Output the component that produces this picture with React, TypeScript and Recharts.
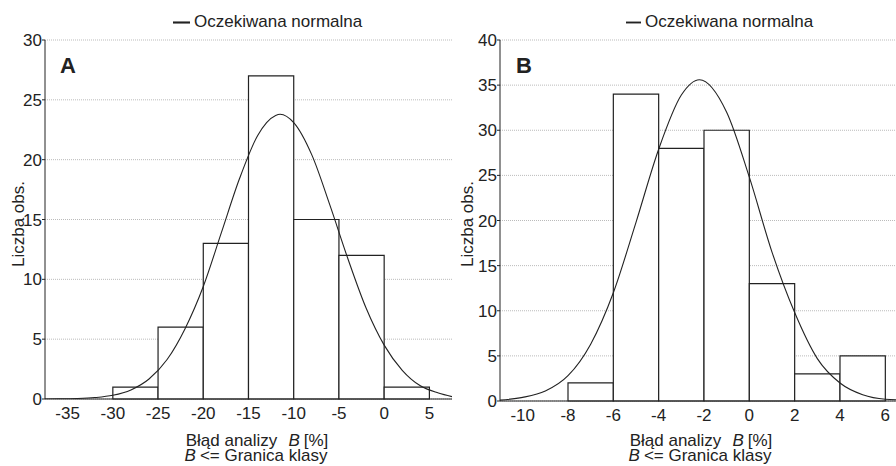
import {
  ComposedChart,
  Line,
  XAxis,
  YAxis,
  CartesianGrid,
  ReferenceArea,
  Legend,
} from 'recharts';

// panel A – histogram of the error, bins 5 % wide
const binEdgesA = [-30, -25, -20, -15, -10, -5, 0, 5];
const countsA = [1, 6, 13, 27, 15, 12, 1];
const xTicksA = [-35, -30, -25, -20, -15, -10, -5, 0, 5];
const yTicksA = [0, 5, 10, 15, 20, 25, 30];
const curveXA = [-37.5, -36, -34, -32, -30, -28, -26, -24, -22, -20, -18, -16, -14, -13, -12, -11.5, -10, -8, -6, -4, -2, 0, 2, 4, 6, 7.5];
const curveYA = [0.0, 0.01, 0.04, 0.12, 0.31, 0.76, 1.67, 3.3, 5.9, 9.4, 13.9, 18.4, 22.0, 23.1, 23.7, 23.8, 23.1, 20.4, 16.2, 11.7, 7.6, 4.5, 2.4, 1.1, 0.5, 0.2];

// panel B – histogram of the error, bins 2 % wide
const binEdgesB = [-8, -6, -4, -2, 0, 2, 4, 6];
const countsB = [2, 34, 28, 30, 13, 3, 5];
const xTicksB = [-10, -8, -6, -4, -2, 0, 2, 4, 6];
const yTicksB = [0, 5, 10, 15, 20, 25, 30, 35, 40];
const curveXB = [-11, -10, -9, -8, -7, -6, -5, -4, -3, -2.2, -1, 0, 1, 2, 3, 4, 5, 6, 7];
const curveYB = [0.1, 0.4, 1.1, 2.8, 6.3, 12.0, 19.8, 27.9, 33.9, 35.6, 32.0, 24.8, 16.5, 9.8, 4.7, 2.0, 0.7, 0.2, 0.1];

const INK = '#222';
const FS = 17;
const tickStyle = { fill: INK, fontSize: FS };

interface PanelProps {
  left: number;
  width: number;
  margin: { top: number; right: number; bottom: number; left: number };
  yAxisWidth: number;
  xDomain: [number, number];
  yDomain: [number, number];
  xTicks: number[];
  yTicks: number[];
  edges: number[];
  counts: number[];
  curveX: number[];
  curveY: number[];
  legendLeft: number;
  iconSize: number;
}

const Panel = (p: PanelProps) => {
  const curve = p.curveX.map((x, i) => ({ x, y: p.curveY[i] }));
  return (
    <div style={{ position: 'absolute', left: p.left, top: 0 }}>
      <ComposedChart width={p.width} height={466} data={curve} margin={p.margin}>
        <CartesianGrid vertical={false} stroke="#bbb" strokeDasharray="1 1" />
        <XAxis
          dataKey="x"
          type="number"
          domain={p.xDomain}
          ticks={p.xTicks}
          allowDataOverflow
          height={37}
          tick={tickStyle}
          tickSize={0}
          tickMargin={8}
          axisLine={{ stroke: INK }}
        />
        <XAxis
          xAxisId="top"
          orientation="top"
          dataKey="x"
          type="number"
          domain={p.xDomain}
          ticks={p.xTicks}
          allowDataOverflow
          height={0}
          mirror
          tick={false}
          tickSize={4}
          axisLine={{ stroke: INK }}
          tickLine={{ stroke: INK }}
        />
        <YAxis
          type="number"
          domain={p.yDomain}
          ticks={p.yTicks}
          allowDataOverflow
          width={p.yAxisWidth}
          tick={tickStyle}
          tickSize={3}
          tickMargin={0}
          axisLine={{ stroke: INK }}
          tickLine={{ stroke: INK }}
        />
        <YAxis
          yAxisId="right"
          orientation="right"
          type="number"
          domain={p.yDomain}
          ticks={p.yTicks}
          allowDataOverflow
          width={0}
          mirror
          tick={false}
          tickSize={4}
          axisLine={{ stroke: INK }}
          tickLine={{ stroke: INK }}
        />
        {p.counts.map((c, i) => (
          <ReferenceArea
            key={i}
            x1={p.edges[i]}
            x2={p.edges[i + 1]}
            y1={0}
            y2={c}
            fill="#fff"
            fillOpacity={1}
            stroke={INK}
            strokeWidth={1.2}
            ifOverflow="visible"
          />
        ))}
        <Legend
          verticalAlign="top"
          align="left"
          iconSize={p.iconSize}
          wrapperStyle={{ left: p.legendLeft, top: 12, width: 'auto', fontSize: FS }}
          formatter={(v) => <span style={{ color: INK }}>{v}</span>}
        />
        <Line
          name="Oczekiwana normalna"
          dataKey="y"
          type="monotone"
          stroke={INK}
          strokeWidth={1.1}
          dot={false}
          legendType="plainline"
          isAnimationActive={false}
        />
      </ComposedChart>
    </div>
  );
};

const AxisTitle = ({ cx, yLabelX }: { cx: number; yLabelX: number }) => (
  <>
    <text x={cx} y={446} textAnchor="middle" fontSize={FS} fill={INK}>
      <tspan>Błąd analizy</tspan>
      <tspan dx={11} fontStyle="italic">B</tspan>
      <tspan dx={4}>[%]</tspan>
    </text>
    <text x={cx - 1} y={461} textAnchor="middle" fontSize={FS} fill={INK}>
      <tspan fontStyle="italic">B</tspan>
      <tspan dx={4}>{'<= Granica klasy'}</tspan>
    </text>
    <text
      x={yLabelX}
      y={224}
      transform={`rotate(-90 ${yLabelX} 224)`}
      textAnchor="middle"
      fontSize={FS}
      fill={INK}
    >
      Liczba obs.
    </text>
  </>
);

export default function App() {
  return (
    <div
      style={{
        position: 'absolute',
        left: 0,
        top: 0,
        width: 896,
        height: 466,
        overflow: 'hidden',
        background: '#fff',
        fontFamily: '"Liberation Sans", Arial, sans-serif',
      }}
    >
      <Panel
        left={0}
        width={460}
        margin={{ top: 20, right: 8, bottom: 30, left: 3 }}
        yAxisWidth={42}
        xDomain={[-37.5, 7.5]}
        yDomain={[0, 30]}
        xTicks={xTicksA}
        yTicks={yTicksA}
        edges={binEdgesA}
        counts={countsA}
        curveX={curveXA}
        curveY={curveYA}
        legendLeft={173}
        iconSize={17}
      />
      <Panel
        left={452}
        width={470}
        margin={{ top: 20, right: 14, bottom: 28, left: 1 }}
        yAxisWidth={47}
        xDomain={[-11, 7]}
        yDomain={[0, 40]}
        xTicks={xTicksB}
        yTicks={yTicksB}
        edges={binEdgesB}
        counts={countsB}
        curveX={curveXB}
        curveY={curveYB}
        legendLeft={174}
        iconSize={15}
      />
      <svg
        width={896}
        height={466}
        style={{ position: 'absolute', left: 0, top: 0, pointerEvents: 'none' }}
      >
        <text x={60} y={73} fontSize={22} fontWeight="bold" fill={INK}>A</text>
        <text x={516} y={73} fontSize={22} fontWeight="bold" fill={INK}>B</text>
        <AxisTitle cx={257} yLabelX={24} />
        <AxisTitle cx={701} yLabelX={473} />
      </svg>
    </div>
  );
}
